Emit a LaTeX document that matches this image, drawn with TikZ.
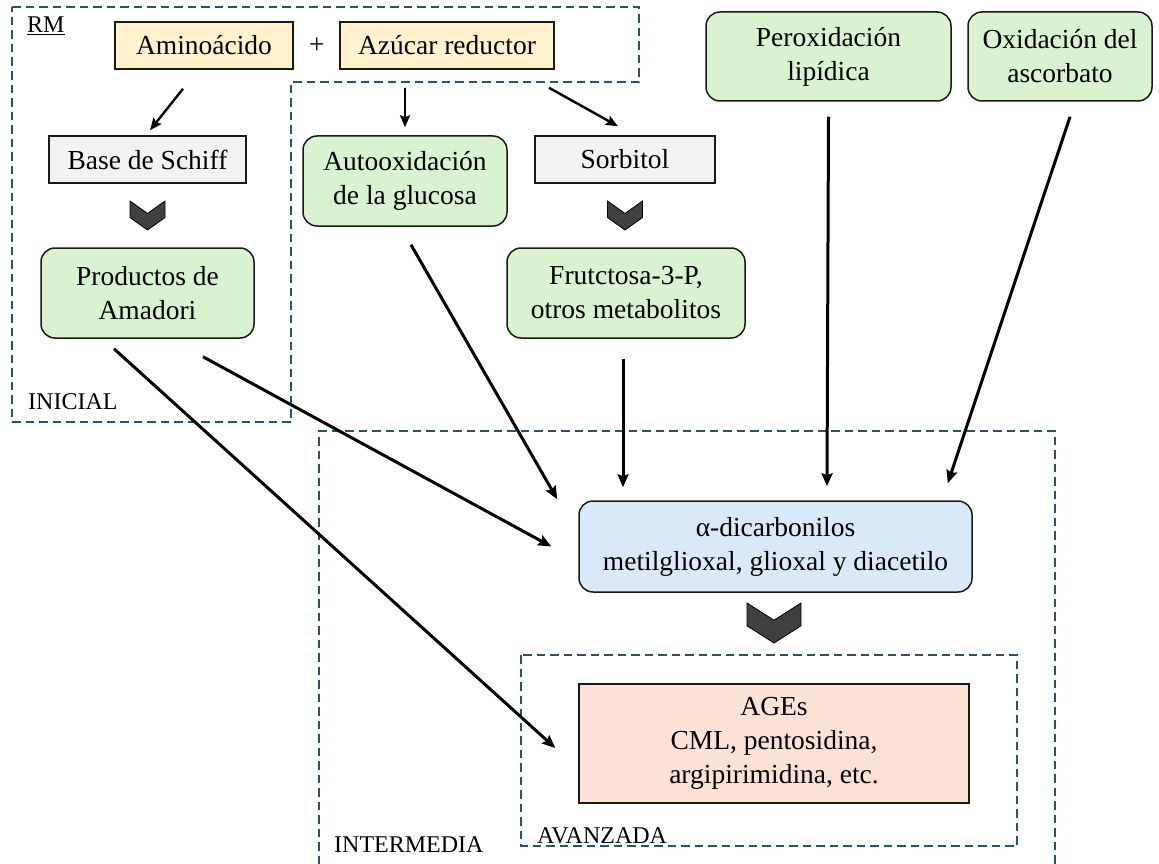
\documentclass[tikz,border=0pt]{standalone}
\usepackage{fontspec}
\setmainfont{Liberation Serif}
\usetikzlibrary{arrows.meta,calc}
\definecolor{boxyellow}{HTML}{FFF2CC}
\definecolor{boxgray}{HTML}{F2F2F2}
\definecolor{boxgreen}{HTML}{D9F2D0}
\definecolor{boxblue}{HTML}{DAE9F8}
\definecolor{boxpeach}{HTML}{FBE2D5}
\definecolor{stageline}{HTML}{22566F}
\definecolor{chevgray}{HTML}{404040}

% downward chevron: centre x, top y, width, height
\newcommand\chevdown[4]{%
  \filldraw[chevshape]
    ({#1-#3/2},{#2}) -- ({#1},{#2+0.43*#4}) -- ({#1+#3/2},{#2})
    -- ({#1+#3/2},{#2+0.57*#4}) -- ({#1},{#2+#4})
    -- ({#1-#3/2},{#2+0.57*#4}) -- cycle;}

\begin{document}
\begin{tikzpicture}[x=1pt,y=-1pt,
  every node/.style={font=\fontsize{27.5}{34}\selectfont, inner sep=0pt, align=center},
  sqbox/.style={draw=black!90, line width=1.5pt},
  rbox/.style={sqbox, rounded corners=14pt},
  stage/.style={draw=stageline, line width=1.9pt, dash pattern=on 8.5pt off 5pt},
  lbl/.style={font=\fontsize{24}{28}\selectfont, anchor=base west},
  arr/.style={line width=3pt, -{Stealth[length=13pt,width=11pt,inset=2pt]}},
  sarr/.style={line width=2.4pt, -{Stealth[length=12pt,width=10pt,inset=2pt]}},
  chevshape/.style={fill=chevgray, draw=black, line width=0.8pt}
]
\useasboundingbox (0,0) rectangle (1159,864);

% stage frames
\draw[stage] (12,7) -- (639,7) -- (639,82) -- (291,82) -- (291,422) -- (12,422) -- cycle;
\draw[stage] (319,864) -- (319,431) -- (1055,431) -- (1055,864);
\draw[stage] (521,655) rectangle (1017,846);

% stage labels
\node[lbl] (rm) at (27,33) {\underline{RM}};
\node[lbl] (inicial) at (28,409) {INICIAL};
\node[lbl] (intermedia) at (334,852) {INTERMEDIA};
\node[lbl] (avanzada) at (537,843) {AVANZADA};

% reactants
\node[sqbox, fill=boxyellow, minimum width=178pt, minimum height=47pt] (amino) at (204,45.5) {Aminoácido};
\node (plus) at (317,46) {+};
\node[sqbox, fill=boxyellow, minimum width=214pt, minimum height=47pt] (azucar) at (447,45.5) {Azúcar reductor};

% initial stage
\node[sqbox, fill=boxgray, minimum width=197pt, minimum height=47pt] (schiff) at (147.5,159.5) {Base de Schiff};
\node[rbox, fill=boxgreen, minimum width=213pt, minimum height=90pt] (amadori) at (147.5,293) {Productos de\\Amadori};

% side routes
\node[rbox, fill=boxgreen, minimum width=204pt, minimum height=90pt] (autox) at (405,181) {Autooxidación\\de la glucosa};
\node[sqbox, fill=boxgray, minimum width=180pt, minimum height=47pt] (sorbitol) at (625,159.5) {Sorbitol};
\node[rbox, fill=boxgreen, minimum width=238pt, minimum height=90pt] (fructosa) at (626,293) {Frutctosa-3-P,\\otros metabolitos};
\node[rbox, fill=boxgreen, minimum width=245pt, minimum height=89pt] (perox) at (828.5,56.5) {Peroxidación\\lipídica};
\node[rbox, fill=boxgreen, minimum width=184pt, minimum height=89pt] (ascorb) at (1060,56.5) {Oxidación del\\ascorbato};

% intermediate and advanced products
\node[rbox, fill=boxblue, minimum width=393pt, minimum height=91pt] (alpha) at (775.5,546.5) {α-dicarbonilos\\metilglioxal, glioxal y diacetilo};
\node[sqbox, fill=boxpeach, minimum width=390pt, minimum height=119pt] (ages) at (774,743.5) {AGEs\\CML, pentosidina,\\argipirimidina, etc.};

% chevrons
\chevdown{147.5}{201}{35}{29}
\chevdown{625}{201}{35}{29}
\chevdown{774}{603}{54}{40}

% short arrows
\draw[sarr] ([xshift=-21pt,yshift=-19pt]amino.south) -- ([xshift=2.5pt,yshift=5pt]schiff.north);
\draw[sarr] ([xshift=-42pt,yshift=-18pt]azucar.south) -- ([yshift=8pt]autox.north);
\draw[sarr] ([xshift=102pt,yshift=-18pt]azucar.south) -- ([xshift=-7pt,yshift=9pt]sorbitol.north);

% long arrows into the dicarbonyls and AGEs
\draw[arr] ([xshift=6pt,yshift=-18pt]autox.south) -- ([xshift=-21pt,yshift=1pt]alpha.north west);
\draw[arr] ([xshift=-3pt,yshift=-20pt]fructosa.south) -- ([xshift=-152.5pt,yshift=13pt]alpha.north);
\draw[arr] ([yshift=-15pt]perox.south) -- ([xshift=51.5pt,yshift=14pt]alpha.north);
\draw[arr] ([xshift=10pt,yshift=-15pt]ascorb.south) -- ([xshift=-25pt,yshift=17pt]alpha.north east);
\draw[arr] ([xshift=55.5pt,yshift=-18pt]amadori.south) -- ([xshift=-27pt]alpha.west);
\draw[arr] ([xshift=-33.5pt,yshift=-10pt]amadori.south) -- ([xshift=-23pt,yshift=-4.5pt]ages.west);
\end{tikzpicture}
\end{document}
